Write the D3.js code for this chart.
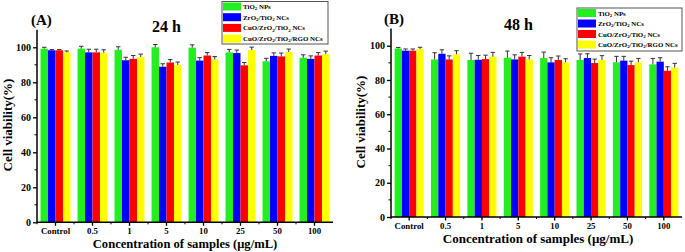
<!DOCTYPE html>
<html><head><meta charset="utf-8">
<script src="https://cdn.jsdelivr.net/npm/d3@7"></script>
<style>body{margin:0;background:#fff}svg{display:block}text{font-family:"Liberation Serif","Times New Roman",serif;font-weight:bold}</style>
</head><body><svg id="c" width="685" height="252"></svg>
<script>
const categories = ["Control","0.5","1","5","10","25","50","100"];
const seriesNames = ["TiO2 NPs","ZrO2/TiO2 NCs","CuO/ZrO2/TiO2 NCs","CuO/ZrO2/TiO2/RGO NCs"];
const colors = ["#22ee22","#0000ff","#ff0000","#ffff00"];
const yTicks = [0,20,40,60,80,100];
// 24 h values
const a_tio2 = [99.2,99.2,98.6,100.0,99.8,97.1,92.0,94.0];
const a_zr   = [98.3,97.1,92.6,88.9,92.4,96.7,95.1,93.4];
const a_cu   = [98.3,97.1,93.4,91.3,95.3,89.7,94.8,95.3];
const a_rgo  = [97.1,96.9,94.4,89.9,93.0,98.4,97.3,96.1];
const a_err_tio2 = [0.8,1.4,1.7,1.6,1.6,1.7,1.7,1.7];
const a_err_zr   = [0.4,1.8,1.7,1.7,1.7,1.7,1.7,1.7];
const a_err_cu   = [0.4,1.8,1.9,1.7,1.7,1.6,1.9,1.7];
const a_err_rgo  = [0.8,1.7,1.7,1.7,1.7,1.7,1.7,1.7];
// 48 h values
const b_tio2 = [98.4,92.0,91.7,93.0,92.8,91.7,90.3,89.1];
const b_zr   = [97.1,95.3,91.8,92.0,90.3,92.8,91.3,90.7];
const b_cu   = [97.1,92.0,92.2,93.6,91.7,89.9,88.7,85.4];
const b_rgo  = [98.1,95.0,93.6,92.0,90.3,91.7,90.3,87.2];
const b_err_tio2 = [0.6,3.9,3.9,3.9,3.5,3.5,3.5,3.5];
const b_err_zr   = [1.0,2.3,2.5,2.7,2.7,2.5,2.5,2.3];
const b_err_cu   = [1.0,2.1,2.3,2.5,2.3,2.3,2.3,2.3];
const b_err_rgo  = [1.0,2.1,2.5,2.3,2.1,2.5,2.3,2.5];

const svg = d3.select("#c");

function labelWithSubs(sel, s){
  const parts = s.split(/(O2)/);
  let shifted = false;
  parts.forEach(p=>{
    if(p==="O2"){ sel.append("tspan").text("O"); sel.append("tspan").attr("font-size","0.7em").attr("dy","0.25em").text("2"); shifted = true; }
    else if(p){ const t = sel.append("tspan").text(p); if(shifted){ t.attr("dy","-0.175em"); shifted=false; } }
  });
}

function panel(cfg){
  const g = svg.append("g");
  const x = d3.scaleBand().domain(categories).range([cfg.x0,cfg.x1]).paddingInner(cfg.pi).paddingOuter(cfg.po);
  const xs = d3.scaleBand().domain(d3.range(4)).range([0,x.bandwidth()]);
  const y = d3.scaleLinear().domain([0,110]).range([cfg.y0,cfg.yTop]);
  const vals = cfg.vals, errs = cfg.errs;
  categories.forEach((c,i)=>{
    for(let s=0;s<4;s++){
      const v = vals[s][i], e = errs[s][i];
      const bx = x(c)+xs(s);
      g.append("rect").attr("x",bx).attr("y",y(v)).attr("width",xs.bandwidth()).attr("height",y(0)-y(v)).attr("fill",colors[s]);
      const cx = bx + xs.bandwidth()/2;
      g.append("line").attr("x1",cx).attr("x2",cx).attr("y1",y(v)).attr("y2",y(v+e)).attr("stroke","#333").attr("stroke-width",1);
      g.append("line").attr("x1",cx-2.2).attr("x2",cx+2.2).attr("y1",y(v+e)).attr("y2",y(v+e)).attr("stroke","#333").attr("stroke-width",1);
    }
  });
  const yAxis = d3.axisLeft(y).tickValues(yTicks).tickSize(4).tickPadding(2);
  const ya = g.append("g").attr("transform",`translate(${cfg.x0},0)`).call(yAxis);
  ya.select(".domain").attr("d",`M0,${y(0)}V${y(110)}`).attr("stroke","#000").attr("stroke-width",1.5);
  ya.selectAll(".tick line").attr("stroke-width",1.3);
  ya.selectAll("text").attr("font-size",10).attr("font-family",'"Liberation Serif",serif').attr("font-weight","bold").attr("fill","#000");
  [10,30,50,70,90].forEach(t=>{
    g.append("line").attr("x1",cfg.x0-2.5).attr("x2",cfg.x0).attr("y1",y(t)).attr("y2",y(t)).attr("stroke","#000").attr("stroke-width",1);
  });
  const xAxis = d3.axisBottom(x).tickSize(3.5).tickPadding(cfg.xpad);
  const xa = g.append("g").attr("transform",`translate(0,${y(0)})`).call(xAxis);
  xa.select(".domain").attr("d",`M${cfg.x0},0H${cfg.x1}`).attr("stroke","#000").attr("stroke-width",1.5);
  xa.selectAll(".tick line").attr("stroke-width",1.3);
  xa.selectAll("text").attr("font-size",8.8).attr("font-family",'"Liberation Serif",serif').attr("font-weight","bold").attr("fill","#000");
  for(let i=0;i<=categories.length;i++){
    const mx = x(categories[0]) + x.bandwidth()/2 + (i-0.5)*x.step();
    if(mx>cfg.x0 && mx<cfg.x1)
      g.append("line").attr("x1",mx).attr("x2",mx).attr("y1",y(0)).attr("y2",y(0)+2).attr("stroke","#000").attr("stroke-width",1);
  }
  g.append("text").attr("x",cfg.xtX).attr("y",cfg.xtY).attr("text-anchor","middle").attr("font-size",cfg.xtF).text("Concentration of samples (\u03bcg/mL)");
  g.append("text").attr("transform",`translate(${cfg.ytX},${cfg.ytY}) rotate(-90)`).attr("text-anchor","middle").attr("font-size",13).text("Cell viability(%)");
  g.append("text").attr("x",cfg.lbX).attr("y",cfg.lbY).attr("font-size",15).text(cfg.label);
  g.append("text").attr("x",cfg.tX).attr("y",cfg.tY).attr("font-size",16).text(cfg.title);
  const lg = g.append("g");
  lg.append("rect").attr("x",cfg.lgX).attr("y",cfg.lgY).attr("width",cfg.lgW).attr("height",cfg.lgH).attr("fill","#fff").attr("stroke","#555").attr("stroke-width",1);
  seriesNames.forEach((n,i)=>{
    const ty = cfg.lgY + 1 + i*cfg.lgStep;
    lg.append("rect").attr("x",cfg.lgX+1).attr("y",ty).attr("width",18).attr("height",8).attr("fill",colors[i]);
    const t = lg.append("text").attr("x",cfg.lgX+21).attr("y",ty+6.5).attr("font-size",6.9);
    labelWithSubs(t,n);
  });
}

panel({x0:37,x1:333,pi:0.19,po:0.095,y0:222.3,yTop:29.8,xpad:2,
  vals:[a_tio2,a_zr,a_cu,a_rgo],errs:[a_err_tio2,a_err_zr,a_err_cu,a_err_rgo],
  xtX:185,xtY:247.6,xtF:12.6,ytX:12,ytY:125,lbX:31,lbY:25,label:"(A)",tX:152,tY:31.5,title:"24 h",
  lgX:222,lgY:1.5,lgW:106,lgH:42.5,lgStep:10.7});
panel({x0:391,x1:682,pi:0.2,po:0.1,y0:217,yTop:28.6,xpad:2,
  vals:[b_tio2,b_zr,b_cu,b_rgo],errs:[b_err_tio2,b_err_zr,b_err_cu,b_err_rgo],
  xtX:538,xtY:242.5,xtF:13,ytX:365,ytY:122,lbX:384,lbY:23.5,label:"(B)",tX:504,tY:30,title:"48 h",
  lgX:577,lgY:8,lgW:105,lgH:43,lgStep:10.5});
</script></body></html>
